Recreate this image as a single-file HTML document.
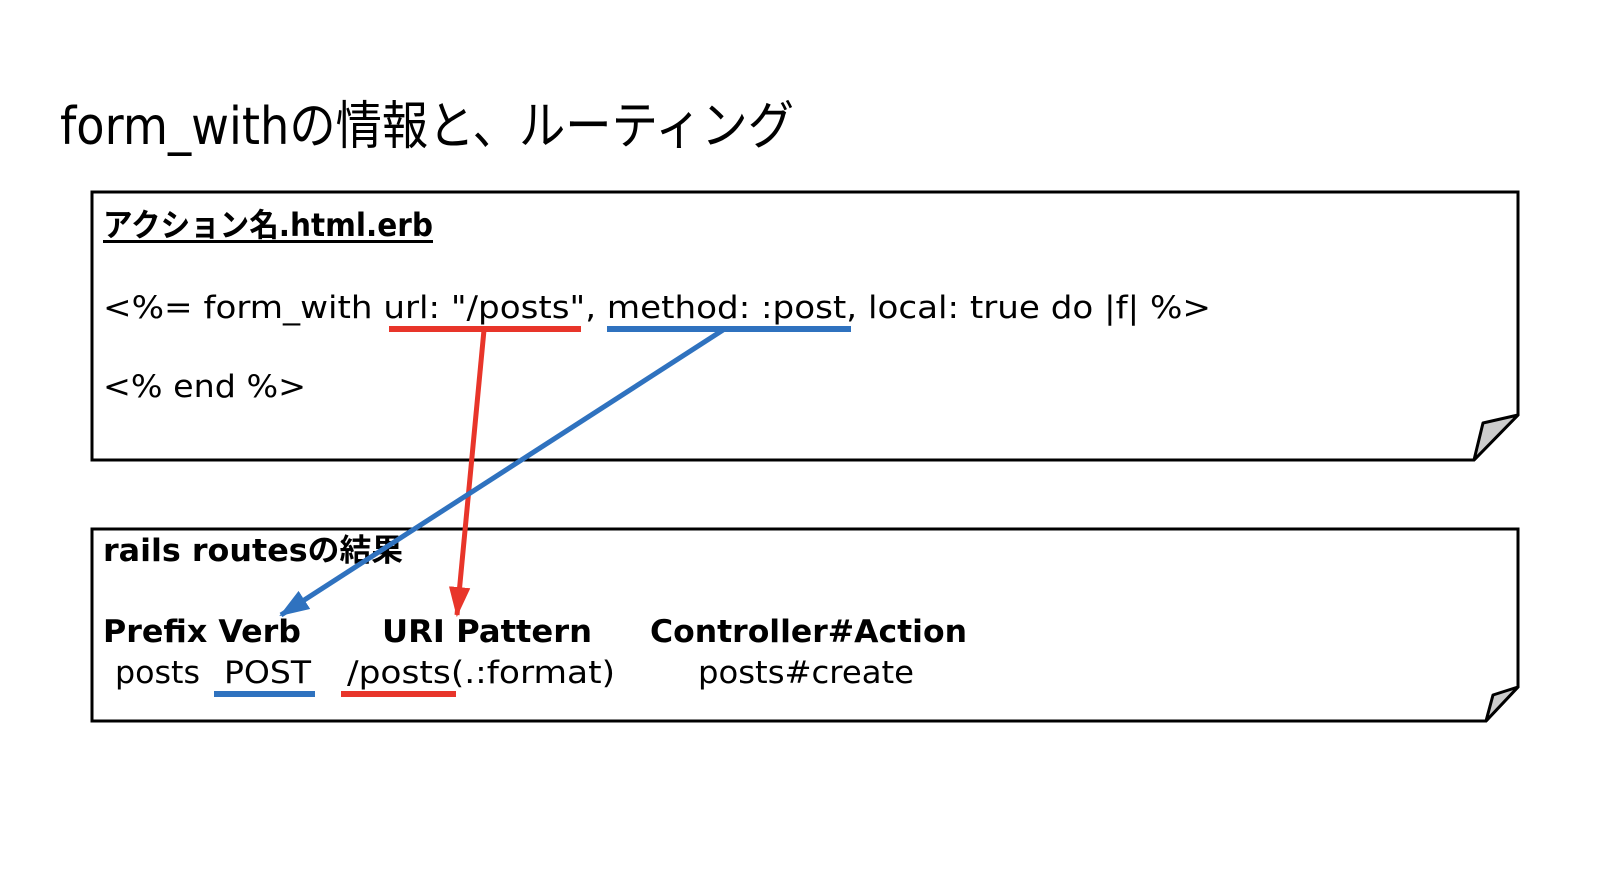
<!DOCTYPE html>
<html><head><meta charset="utf-8"><style>
html,body{margin:0;padding:0;background:#fff;width:1612px;height:890px;overflow:hidden}
text{font-family:"DejaVu Sans","Liberation Sans","Noto Sans CJK JP",sans-serif;fill:#000}
.b{font-weight:bold}
</style></head><body>
<svg width="1612" height="890" viewBox="0 0 1612 890" xmlns="http://www.w3.org/2000/svg">
<defs>
<marker id="ar" viewBox="0 0 14 10" refX="13" refY="5" markerWidth="6" markerHeight="4.4" orient="auto"><path d="M0,0 L14,5 L0,10 z" fill="#e8352a"/></marker>
<marker id="ab" viewBox="0 0 14 10" refX="13" refY="5" markerWidth="6" markerHeight="4.4" orient="auto"><path d="M0,0 L14,5 L0,10 z" fill="#2f72bf"/></marker>
</defs>
<text x="60" y="144" font-size="52" textLength="734" lengthAdjust="spacingAndGlyphs">form_withの情報と、ルーティング</text>

<path d="M92,192 L1518,192 L1518,415 L1474,460 L92,460 Z" fill="#fff" stroke="#000" stroke-width="3"/>
<path d="M1518,415 L1483,423 L1474,460 Z" fill="#ccc" stroke="#000" stroke-width="3" stroke-linejoin="round"/>
<path d="M92,529 L1518,529 L1518,687 L1486,721 L92,721 Z" fill="#fff" stroke="#000" stroke-width="3"/>
<path d="M1518,687 L1493,695 L1486,721 Z" fill="#ccc" stroke="#000" stroke-width="3" stroke-linejoin="round"/>

<text class="b" x="103" y="236" font-size="32" textLength="330" lengthAdjust="spacingAndGlyphs">アクション名.html.erb</text>
<rect x="103" y="240" width="330" height="3" fill="#000"/>
<text x="103" y="318" font-size="31" textLength="1108" lengthAdjust="spacingAndGlyphs">&lt;%= form_with url: "/posts", method: :post, local: true do |f| %&gt;</text>
<text x="103" y="397" font-size="31" textLength="203" lengthAdjust="spacingAndGlyphs">&lt;% end %&gt;</text>

<text class="b" x="103" y="561" font-size="31" textLength="300" lengthAdjust="spacingAndGlyphs">rails routesの結果</text>
<text class="b" x="103" y="642" font-size="31" textLength="198" lengthAdjust="spacingAndGlyphs">Prefix Verb</text>
<text class="b" x="382" y="642" font-size="31" textLength="210" lengthAdjust="spacingAndGlyphs">URI Pattern</text>
<text class="b" x="650" y="642" font-size="31" textLength="317" lengthAdjust="spacingAndGlyphs">Controller#Action</text>
<text x="115" y="683" font-size="31" textLength="85" lengthAdjust="spacingAndGlyphs">posts</text>
<text x="224" y="683" font-size="31" textLength="87" lengthAdjust="spacingAndGlyphs">POST</text>
<text x="347" y="683" font-size="31" textLength="268" lengthAdjust="spacingAndGlyphs">/posts(.:format)</text>
<text x="698" y="683" font-size="31" textLength="216" lengthAdjust="spacingAndGlyphs">posts#create</text>

<rect x="389" y="326" width="192" height="6" fill="#e8352a"/>
<rect x="607" y="326" width="244" height="6" fill="#2f72bf"/>
<rect x="214" y="691" width="101" height="6" fill="#2f72bf"/>
<rect x="341" y="691" width="115" height="6" fill="#e8352a"/>

<line x1="484" y1="330" x2="457" y2="615" stroke="#e8352a" stroke-width="5" marker-end="url(#ar)"/>
<line x1="723" y1="330" x2="281" y2="615" stroke="#2f72bf" stroke-width="5" marker-end="url(#ab)"/>
</svg>
</body></html>
